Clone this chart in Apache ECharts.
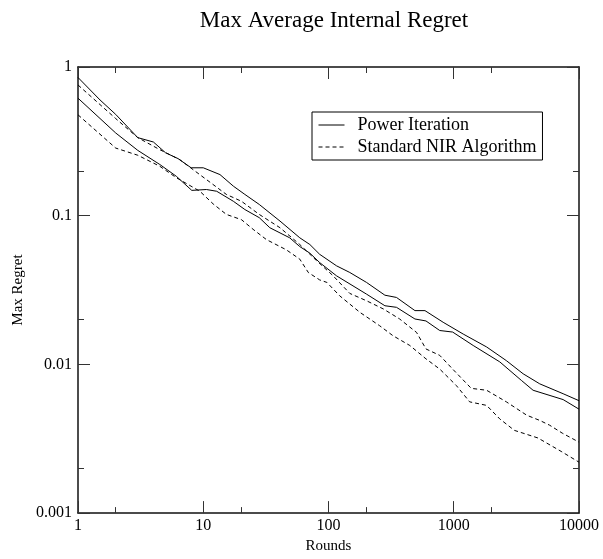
<!DOCTYPE html>
<html>
<head>
<meta charset="utf-8">
<script src="https://cdn.jsdelivr.net/npm/echarts@6/dist/echarts.min.js"></script>
<style>html,body{margin:0;padding:0;background:#fff}#c{width:603px;height:559px}</style>
</head>
<body>
<div id="c"></div>
<script>
// Power Iteration (upper solid curve)
const roundsPowerA = [1,1.5,2,3,4,5,6.3,8,10,13.6,17.4,21.5,28,41,59,71,85,116,148,201,282,349,490,589,823,1190,1830,2630,3580,4860,7470,10000];
const regretPowerA = [0.85,0.6,0.48,0.335,0.313,0.265,0.242,0.21,0.21,0.189,0.158,0.139,0.119,0.092,0.071,0.064,0.055,0.046,0.0415,0.0356,0.0292,0.0282,0.023,0.023,0.0192,0.016,0.0131,0.0106,0.00865,0.0074,0.00635,0.0057];
// Power Iteration (lower solid curve)
const roundsPowerB = [1,2,3,4.5,6.1,8.1,10.6,12.8,17.4,21.5,28,34,49,59,71,85,116,201,282,349,490,600,773,980,1430,2330,3470,4300,7470,10000];
const regretPowerB = [0.617,0.36,0.275,0.221,0.184,0.148,0.15,0.146,0.125,0.11,0.097,0.083,0.071,0.062,0.056,0.0484,0.0394,0.0297,0.0248,0.0242,0.0202,0.0196,0.0169,0.0165,0.0134,0.0104,0.0078,0.0067,0.0058,0.005];
// Standard NIR Algorithm (upper dashed curve)
const roundsNirA = [1,2,3,4.5,6.5,8.3,10.6,15.3,20.2,28,41,59,80,109,148,201,274,370,505,600,773,980,1380,1830,2630,3830,4860,5830,7350,10000];
const regretNirA = [0.757,0.45,0.335,0.278,0.238,0.204,0.175,0.139,0.125,0.102,0.083,0.064,0.05,0.0394,0.03,0.0268,0.0236,0.0202,0.0164,0.0127,0.0115,0.0093,0.0069,0.0067,0.0056,0.00455,0.0042,0.0039,0.00345,0.003];
// Standard NIR Algorithm (lower dashed curve)
const roundsNirB = [1,2,3,4.5,6.1,9.4,12,15.3,20.2,25,32,46,59,69,85,97,123,178,256,327,446,600,773,1050,1340,1830,2330,3050,4700,7200,10000];
const regretNirB = [0.477,0.285,0.255,0.215,0.18,0.146,0.12,0.102,0.094,0.081,0.069,0.059,0.051,0.0415,0.037,0.0356,0.0289,0.0224,0.0182,0.0156,0.0134,0.0109,0.0093,0.0072,0.0056,0.0053,0.0043,0.0036,0.0032,0.0026,0.0022];

const minorXTicks = [2,20,200,2000];
const minorYTicks = [0.002,0.02,0.2];
const seriesNames = ['Power Iteration','Standard NIR Algorithm'];

const FONT = "'Liberation Serif','Times New Roman',serif";
const zip = (a,b) => a.map((v,i)=>[v,b[i]]);
const fmt = v => String(+Number(v).toPrecision(6));
const axisLineStyle = {color:'#111', width:1.5};

function xAx(pos, minor, main) {
  return {
    type:'log', logBase:10, min:1, max:10000, position:pos, gridIndex:0,
    axisLine:{show:!minor, onZero:false, lineStyle:axisLineStyle},
    axisTick: minor ? {show:true, inside:true, length:6, customValues:minorXTicks, lineStyle:{color:'#333', width:1}}
                    : {show:true, inside:true, length:12, lineStyle:{color:'#333', width:1}},
    axisLabel: main ? {show:true, formatter:fmt, color:'#000', fontFamily:FONT, fontSize:16, margin:5} : {show:false},
    splitLine:{show:false}, minorTick:{show:false},
    name: main ? 'Rounds' : '', nameLocation:'middle', nameGap:25,
    nameTextStyle:{color:'#000', fontFamily:FONT, fontSize:15}
  };
}
function yAx(pos, minor, main) {
  return {
    type:'log', logBase:10, min:0.001, max:1, position:pos, gridIndex:0,
    axisLine:{show:!minor, onZero:false, lineStyle:axisLineStyle},
    axisTick: minor ? {show:true, inside:true, length:6, customValues:minorYTicks, lineStyle:{color:'#333', width:1}}
                    : {show:true, inside:true, length:12, lineStyle:{color:'#333', width:1}},
    axisLabel: main ? {show:true, formatter:fmt, color:'#000', fontFamily:FONT, fontSize:16, margin:6} : {show:false},
    splitLine:{show:false}, minorTick:{show:false},
    name: main ? 'Max Regret' : '', nameLocation:'middle', nameGap:52, nameRotate:90,
    nameTextStyle:{color:'#000', fontFamily:FONT, fontSize:15}
  };
}

function lineSeries(name, xs, ys, dashed) {
  return {
    name, type:'line', xAxisIndex:0, yAxisIndex:0, data:zip(xs,ys),
    symbol:'none', showSymbol:false, smooth:false,
    lineStyle:{color:'#000', width:1, type: dashed ? [4,3] : 'solid'},
    itemStyle:{color:'#000'}
  };
}

const chart = echarts.init(document.getElementById('c'), null, {renderer:'canvas'});
chart.setOption({
  animation:false,
  backgroundColor:'#fff',
  title:{text:'Max Average Internal Regret', left:329, top:4, textAlign:'center',
    textStyle:{color:'#000', fontFamily:FONT, fontSize:23, fontWeight:'normal'}},
  grid:{left:78, right:24, top:67, bottom:44, containLabel:false},
  legend:{
    data:seriesNames, orient:'vertical', left:312, top:112,
    backgroundColor:'#fff', borderColor:'#000', borderWidth:1, borderRadius:0,
    padding:[4,6,4,6], itemWidth:26, itemHeight:12, itemGap:4,
    itemStyle:{opacity:0},
    lineStyle:{width:1},
    textStyle:{color:'#000', fontFamily:FONT, fontSize:18, padding:[0,0,0,8]}
  },
  xAxis:[xAx('bottom',false,true), xAx('bottom',true,false), xAx('top',false,false), xAx('top',true,false)],
  yAxis:[yAx('left',false,true), yAx('left',true,false), yAx('right',false,false), yAx('right',true,false)],
  series:[
    lineSeries(seriesNames[0], roundsPowerA, regretPowerA, false),
    lineSeries(seriesNames[0], roundsPowerB, regretPowerB, false),
    lineSeries(seriesNames[1], roundsNirA, regretNirA, true),
    lineSeries(seriesNames[1], roundsNirB, regretNirB, true)
  ]
});
</script>
</body>
</html>
